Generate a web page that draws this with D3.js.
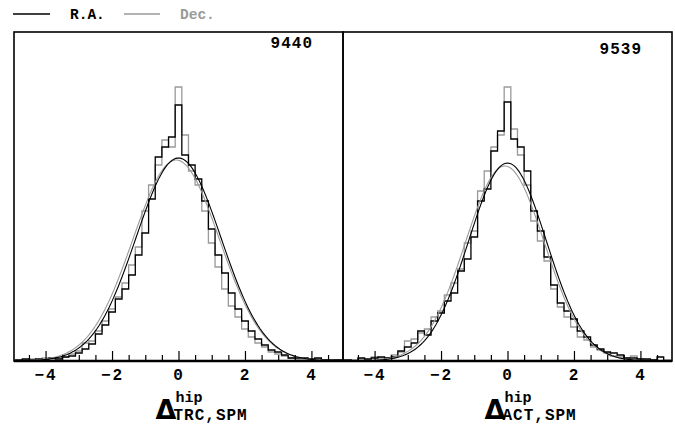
<!DOCTYPE html>
<html>
<head>
<meta charset="utf-8">
<script src="https://cdn.jsdelivr.net/npm/d3@7/dist/d3.min.js"></script>
<style>
  body { margin: 0; background: #fff; }
  text { font-family: "Liberation Mono", monospace; font-weight: bold; }
</style>
</head>
<body>
<script>

// histogram bins: width 0.2, first bin centred on -4.8
var binStart = -4.9,
    binWidth = 0.2;

// counts per bin
var raTRC  = [3,6,3,6,3,9,6,12,15,24,36,51,81,108,147,186,216,258,318,384,486,612,642,672,768,618,588,546,480,396,318,264,204,156,120,90,66,48,33,27,18,9,9,9,6,9,3,3,3];
var decTRC = [0,3,6,3,9,6,9,12,21,30,54,60,90,120,156,192,234,288,342,450,528,588,663,642,822,678,570,528,450,354,282,216,165,132,96,72,54,42,27,21,15,9,6,6,3,6,3,0,3];
var raACT  = [3,0,9,6,9,12,9,12,30,42,54,90,78,120,144,180,204,270,306,372,480,516,630,690,777,666,642,570,450,390,312,228,174,150,126,90,72,48,36,27,24,18,9,9,6,6,3,12,0];
var decACT = [0,3,6,3,12,9,9,18,27,60,66,84,96,132,150,198,234,276,354,390,510,570,642,678,822,696,618,528,420,360,300,216,162,132,102,72,63,42,33,24,15,12,9,15,6,3,3,0,3];

// gaussian fits [amplitude, mean, sigma]
var fitRaTRC  = [609, 0.0, 1.28];
var fitDecTRC = [603, -0.07, 1.30];
var fitRaACT  = [594, 0.0, 1.17];
var fitDecACT = [585, -0.08, 1.19];

var panelStars  = ["9440", "9539"];
var panelSub    = ["TRC,SPM", "ACT,SPM"];
var majorTicks  = [-4, -2, 0, 2, 4];
var minorTicks  = [-4.5, -3.5, -3, -2.5, -1.5, -1, -0.5, 0.5, 1, 1.5, 2.5, 3, 3.5, 4.5];
var legendNames = ["R.A.", "Dec."];

var width = 675,
    height = 424;
var plotTop = 32, plotBottom = 361;
var panelX = [[14, 343], [343, 672]];
var black = "#000", grey = "#9a9a9a";

var panels = [
  { ra: raTRC, dec: decTRC, fitRa: fitRaTRC, fitDec: fitDecTRC },
  { ra: raACT, dec: decACT, fitRa: fitRaACT, fitDec: fitDecACT }
];

var svg = d3.select("body").append("svg")
    .attr("width", width)
    .attr("height", height);

var y = d3.scaleLinear().domain([0, 987]).range([plotBottom, plotTop]);

function histPoints(vals) {
  var pts = [[binStart, 0]];
  vals.forEach(function(v, i) {
    var x0 = binStart + i * binWidth;
    pts.push([x0, v], [x0 + binWidth, v]);
  });
  pts.push([binStart + vals.length * binWidth, 0]);
  return pts;
}

function gaussPoints(p) {
  return d3.range(-5, 5.001, 0.05).map(function(v) {
    return [v, p[0] * Math.exp(-(v - p[1]) * (v - p[1]) / (2 * p[2] * p[2]))];
  });
}

panels.forEach(function(p, i) {
  var x = d3.scaleLinear().domain([-4.95, 4.95]).range(panelX[i]);
  var line = d3.line()
      .x(function(d) { return x(d[0]); })
      .y(function(d) { return y(d[1]); });

  svg.append("clipPath").attr("id", "clip" + i)
    .append("rect")
      .attr("x", panelX[i][0]).attr("y", plotTop)
      .attr("width", panelX[i][1] - panelX[i][0]).attr("height", plotBottom - plotTop);

  var g = svg.append("g").attr("clip-path", "url(#clip" + i + ")");

  g.append("path").attr("d", line(histPoints(p.dec)))
      .attr("fill", "none").attr("stroke", grey).attr("stroke-width", 1.3);
  g.append("path").attr("d", line(histPoints(p.ra)))
      .attr("fill", "none").attr("stroke", black).attr("stroke-width", 1.3);
  g.append("path").attr("d", line(gaussPoints(p.fitDec)))
      .attr("fill", "none").attr("stroke", grey).attr("stroke-width", 1.1);
  g.append("path").attr("d", line(gaussPoints(p.fitRa)))
      .attr("fill", "none").attr("stroke", black).attr("stroke-width", 1.1);

  // frame
  svg.append("rect")
      .attr("x", panelX[i][0]).attr("y", plotTop)
      .attr("width", panelX[i][1] - panelX[i][0]).attr("height", plotBottom - plotTop)
      .attr("fill", "none").attr("stroke", black).attr("stroke-width", 1.6);

  // ticks
  var axMinor = svg.append("g").attr("transform", "translate(0," + plotBottom + ")")
      .call(d3.axisBottom(x).tickValues(minorTicks).tickSize(-6).tickFormat(""));
  var axMajor = svg.append("g").attr("transform", "translate(0," + plotBottom + ")")
      .call(d3.axisBottom(x).tickValues(majorTicks).tickSize(-10).tickPadding(8));
  [axMinor, axMajor].forEach(function(ax) {
    ax.select(".domain").remove();
    ax.selectAll(".tick line").attr("stroke", black).attr("stroke-width", 1.2);
  });
  axMajor.selectAll(".tick text")
      .attr("font-family", "Liberation Mono")
      .attr("font-size", 16)
      .attr("font-weight", "bold")
      .attr("fill", black)
      .text(function(d) { return d < 0 ? "\u2212" + Math.abs(d) : d; })
      .attr("letter-spacing", 2);

  svg.append("line")
      .attr("x1", panelX[i][0]).attr("x2", panelX[i][1])
      .attr("y1", plotBottom).attr("y2", plotBottom)
      .attr("stroke", black).attr("stroke-width", 2.4);

  // number of stars
  svg.append("text")
      .attr("x", panelX[i][1] - 30).attr("y", i === 0 ? 48 : 54)
      .attr("text-anchor", "end")
      .attr("font-size", 16).attr("letter-spacing", 1)
      .text(panelStars[i]);

  // x label
  var cx = x(0);
  svg.append("text")
      .attr("x", cx - 23).attr("y", 419)
      .style("font-family", "DejaVu Sans")
      .attr("font-size", 27)
      .text("\u0394");
  svg.append("text")
      .attr("x", cx - 3).attr("y", 402)
      .attr("font-size", 15)
      .text("hip");
  svg.append("text")
      .attr("x", cx - 5).attr("y", 420)
      .attr("font-size", 16).attr("letter-spacing", 1)
      .text(panelSub[i]);
});

// legend
var legend = svg.append("g");
[[13, 50, 70, black], [124, 160, 180, grey]].forEach(function(l, i) {
  legend.append("line")
      .attr("x1", l[0]).attr("x2", l[1]).attr("y1", 14).attr("y2", 14)
      .attr("stroke", l[3]).attr("stroke-width", 1.3);
  legend.append("text")
      .attr("x", l[2]).attr("y", 19)
      .attr("font-size", 14.5)
      .attr("fill", l[3])
      .text(legendNames[i]);
});

</script>
</body>
</html>
